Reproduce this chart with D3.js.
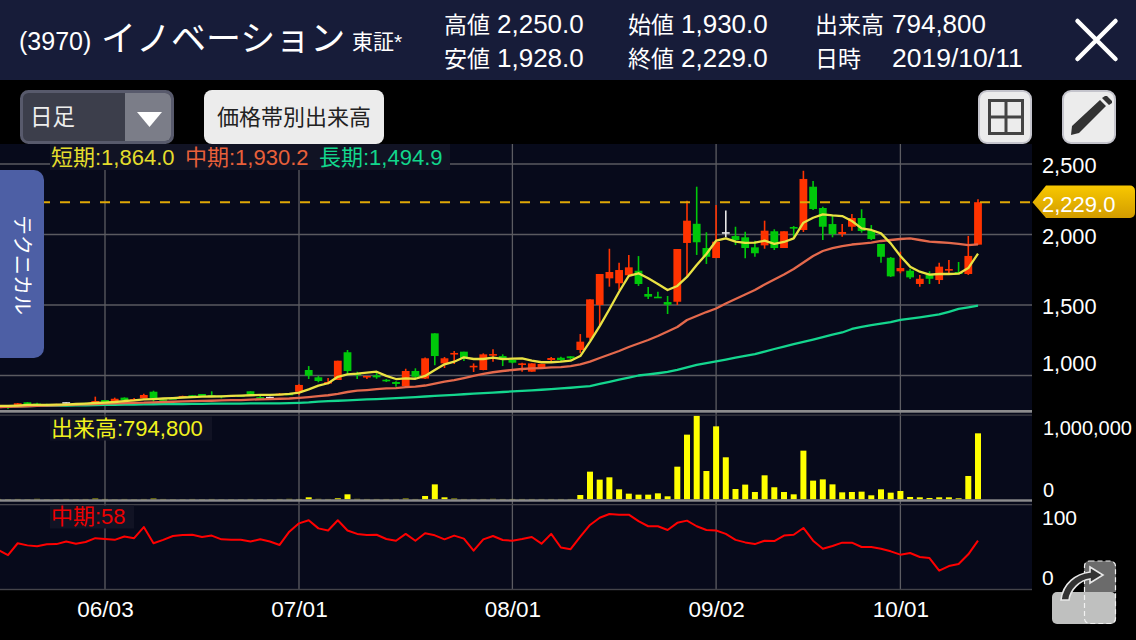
<!DOCTYPE html>
<html lang="ja">
<head>
<meta charset="utf-8">
<script src="https://cdn.jsdelivr.net/npm/d3@7"></script>
<style>
html,body{margin:0;padding:0;background:#000;overflow:hidden}
svg{display:block}
text{font-family:"Liberation Sans","Noto Sans CJK JP",sans-serif}
</style>
</head>
<body>
<svg id="c" width="1136" height="640"></svg>
<script>
const opens  = [776,784,791,810,801,798,795,805,801,805,805,826,817,843,826,838,885,831,840,847,860,869,860,857,852,860,888,847,843,864,871,885,1039,987,945,968,1165,1013,987,1001,970,954,925,1032,978,1299,1086,1152,1169,1060,1039,1145,1138,1110,1077,1027,1055,1110,1126,1136,1181,1268,1500,1689,1654,1711,1743,1578,1559,1521,1523,1940,2076,1904,1833,2011,1989,1980,1909,1923,2023,1904,2053,2032,2339,2188,2074,2003,2055,2117,2032,1933,1835,1739,1743,1649,1715,1677,1748,1734,1720,1928];
const highs  = [783,788,805,812,807,800,799,808,803,807,850,826,843,845,840,871,892,838,842,857,862,869,888,857,860,862,888,864,850,876,876,938,1067,997,982,1105,1181,1027,997,1030,975,959,1048,1051,1128,1299,1131,1174,1169,1086,1157,1186,1150,1124,1091,1086,1082,1131,1133,1138,1294,1540,1720,1899,1800,1855,1847,1628,1594,1564,1897,2240,2339,2016,2209,2171,2055,2020,1956,2098,2037,2023,2060,2452,2379,2197,2131,2074,2145,2179,2067,1933,1840,1878,1757,1713,1739,1800,1819,1805,1990,2250];
const lows   = [772,762,789,787,791,793,793,801,797,800,805,805,817,824,826,838,814,812,835,843,843,850,850,838,852,853,860,833,838,862,862,862,975,952,938,968,1011,975,975,977,954,921,921,980,975,1072,1053,1081,1103,1025,1037,1098,1067,1086,1027,1027,1055,1098,1101,1115,1158,1252,1358,1630,1606,1699,1635,1542,1552,1436,1500,1701,1855,1791,1833,1980,1925,1831,1842,1899,1890,1904,1975,2018,2174,1961,1980,1984,2027,2013,1961,1800,1699,1725,1684,1630,1649,1649,1720,1720,1713,1928];
const closes = [780,770,803,789,794,794,798,805,798,801,819,807,835,826,833,862,838,826,837,855,852,850,852,847,860,855,867,843,843,871,867,933,999,961,954,1105,1032,1003,997,987,959,940,1032,991,1122,1138,1122,1160,1122,1069,1150,1152,1115,1091,1086,1086,1082,1124,1110,1122,1240,1540,1720,1734,1748,1767,1649,1559,1552,1502,1897,2098,1945,1842,1949,2011,1961,1904,1867,2027,1904,2023,2046,2394,2181,2055,2003,2018,2117,2025,1968,1842,1703,1762,1696,1686,1686,1772,1755,1720,1848,2229];
const maShort = [784,784,787,791,791,791,794,794,798,801,805,808,812,819,823,830,833,837,840,844,847,850,851,852,855,857,860,862,862,865,869,878,902,928,945,991,1008,1013,1020,1027,997,975,980,977,997,1039,1079,1098,1129,1117,1117,1126,1117,1119,1122,1105,1094,1094,1098,1105,1138,1240,1350,1470,1594,1706,1725,1689,1649,1606,1635,1699,1784,1862,1956,1973,1949,1940,1942,1956,1933,1947,1973,2084,2119,2143,2135,2131,2096,2044,2032,2008,1937,1847,1772,1736,1715,1720,1720,1722,1762,1864];
const maMid   = [776,778,780,782,784,787,789,791,793,796,798,800,802,804,806,807,810,812,814,816,818,820,821,823,825,826,829,831,833,835,837,842,847,853,860,870,883,892,897,903,908,911,917,921,929,943,957,968,982,997,1011,1023,1032,1039,1046,1050,1053,1057,1060,1067,1079,1098,1124,1149,1174,1202,1227,1252,1280,1312,1344,1394,1422,1450,1475,1511,1543,1574,1606,1645,1681,1716,1755,1801,1847,1883,1904,1918,1929,1936,1943,1954,1961,1968,1972,1961,1950,1945,1940,1933,1924,1930];
const maLong  = [780,781,782,783,784,785,786,787,788,789,790,791,792,793,794,795,796,797,798,798,799,799,800,800,801,801,802,802,803,803,804,806,809,815,818,821,824,827,830,833,836,840,843,847,851,855,859,863,867,871,875,879,883,887,891,895,899,903,908,913,919,925,940,955,970,985,1000,1008,1016,1025,1040,1058,1075,1088,1100,1113,1126,1139,1152,1170,1188,1205,1222,1238,1255,1272,1290,1305,1330,1345,1358,1368,1378,1394,1403,1413,1423,1433,1452,1472,1483,1494.9];
const volumes = [4000,3000,4000,3000,5000,3000,3000,4000,3000,4000,8000,4000,3000,4000,3000,4000,8000,4000,3000,3000,4000,3000,4000,3000,3000,3000,4000,3000,3000,4000,5000,4000,24000,5000,4000,12000,60000,5000,4000,4000,4000,4000,8000,4000,40000,180000,24000,8000,4000,4000,4000,5000,4000,4000,4000,4000,4000,4000,4000,4000,52000,333000,237000,265000,120000,68000,56000,56000,72000,36000,393000,779000,1007000,341000,879000,506000,124000,177000,88000,289000,145000,88000,60000,586000,225000,240000,180000,84000,88000,92000,48000,120000,80000,100000,28000,24000,16000,24000,24000,12000,281000,794800];
const rsiMid = [47,41,55,52.5,51.4,53.7,54,57,54.5,56.5,61,60,59,63,61,74,55,59,63.5,64.7,65,62.4,64,59.6,59,59,57,59.6,57,53,68.6,78.4,82,72.5,70,82,70,66,64.7,65,60,58,66,58,66.7,64.3,59.6,64,60.4,46.3,59.6,63.5,58.8,58,60,62.4,54.5,66,50,48,62.7,76.5,85,89.4,88.6,88.6,81,75,75,70.6,79,81.6,75,70.6,70,66,59,56,54,58,57.6,64,65,73,58,48.6,51.8,55.7,55.7,50.6,50.6,48.6,45.5,41.6,43.5,38.8,37.6,22.7,28.2,30.6,42,58];
const dateIndex = [11,31,53,74,93];
const dateLabels = ["06/03","07/01","08/01","09/02","10/01"];
const priceTicks = [1000,1500,2000,2500];
const volumeTicks = [0,1000000];
const rsiTicks = [0,100];
const lastClose = 2229.0;
const legendPrice = [["短期:1,864.0",51,"#e4dd2c"],["中期:1,930.2",185,"#e8603a"],["長期:1,494.9",319,"#12d68c"]];
const statsLeft = [["高値","2,250.0",444,497,33],["安値","1,928.0",444,497,67],["始値","1,930.0",628,681,33],["終値","2,229.0",628,681,67]];

const svg = d3.select("#c");
const defs = svg.append("defs");
const gold = defs.append("linearGradient").attr("id","gold").attr("x1",0).attr("y1",0).attr("x2",0).attr("y2",1);
gold.append("stop").attr("offset","0").attr("stop-color","#f8c800");
gold.append("stop").attr("offset","1").attr("stop-color","#d29c00");
defs.append("clipPath").attr("id","cp").append("rect").attr("x",0).attr("y",144).attr("width",1032).attr("height",266);

const W = 1032;
const x = d3.scaleLinear().domain([0,101]).range([978-101*9.7,978]);
const yP = d3.scaleLinear().domain([1000,2500]).range([375.5,164]);
const yV = d3.scaleLinear().domain([0,1000000]).range([499.3,416.3]);
const yR = d3.scaleLinear().domain([0,100]).range([590,505]);

// header
svg.append("rect").attr("width",1136).attr("height",80).attr("fill","#171c39");
const T=(s,px,py,fs,fill,anchor)=>svg.append("text").text(s).attr("x",px).attr("y",py).attr("font-size",fs).attr("fill",fill||"#fff").attr("text-anchor",anchor||"start");
T("(3970)",19,50,25);
T("イノベーション",101,51,35);
T("東証*",352,49,21);
statsLeft.forEach(r=>{T(r[0],r[2],r[4],23);T(r[1],r[3],r[4],26);});
T("出来高",815,33,23);T("794,800",892,33,26);
T("日時",815,67,23);T("2019/10/11",892,67,26.5);
svg.append("path").attr("d","M1077.5 21L1115.5 59M1115.5 21L1077.5 59").attr("stroke","#fff").attr("stroke-width",4.5).attr("stroke-linecap","round");

// buttons
svg.append("rect").attr("x",21.5).attr("y",91.5).attr("width",151).attr("height",51).attr("rx",7).attr("fill","#3c3e4b").attr("stroke","#585a6c").attr("stroke-width",3);
svg.append("path").attr("d","M125 93H165a6 6 0 0 1 6 6V135a6 6 0 0 1 -6 6H125Z").attr("fill","#7b7d88");
svg.append("path").attr("d","M137 112H162L149.5 127Z").attr("fill","#fff");
T("日足",30,125,22.5,"#eee");
svg.append("rect").attr("x",204).attr("y",90).attr("width",180).attr("height",54).attr("rx",8).attr("fill","#ececec");
T("価格帯別出来高",294,125,22,"#222","middle");
svg.append("rect").attr("x",979).attr("y",91).attr("width",52).attr("height",52).attr("rx",8).attr("fill","#ececec").attr("stroke","#c4c4cc").attr("stroke-width",2);
svg.append("path").attr("d","M989.5 100.5H1022.5V133.5H989.5ZM1006 100.5V133.5M989.5 117H1022.5").attr("fill","none").attr("stroke","#444").attr("stroke-width",3);
svg.append("rect").attr("x",1063).attr("y",91).attr("width",52).attr("height",52).attr("rx",8).attr("fill","#ececec").attr("stroke","#c4c4cc").attr("stroke-width",2);
svg.append("path").attr("d","M1072 126L1100 100L1106 106L1079 133L1071 135Z M1102 98L1105 96L1107 96L1112 101L1112 103L1109 105Z").attr("fill","#333");

// panels
svg.append("rect").attr("x",0).attr("y",144).attr("width",W).attr("height",446).attr("fill","#070a1b");

// grid
const grid = svg.append("g");
grid.selectAll("line.h").data(priceTicks).join("line").attr("class","h").attr("x1",0).attr("x2",W).attr("y1",d=>yP(d)).attr("y2",d=>yP(d)).attr("stroke","#5a5a60").attr("stroke-width",1.3);
grid.selectAll("line.v").data(dateIndex).join("line").attr("class","v").attr("x1",d=>x(d)).attr("x2",d=>x(d)).attr("y1",144).attr("y2",590).attr("stroke","#5c5c62").attr("stroke-width",1.3);

// volume
svg.append("g").selectAll("rect").data(volumes).join("rect")
  .attr("x",(d,i)=>x(i)-3).attr("width",6).attr("y",d=>yV(d)).attr("height",d=>yV(0)-yV(d)).attr("fill","#ffff00");

// candles
const cg = svg.append("g").attr("clip-path","url(#cp)");
const col=i=>closes[i]>opens[i]?"#ff3300":closes[i]<opens[i]?"#00c80a":"#e8e8e8";
cg.selectAll("line.w").data(closes).join("line").attr("class","w").attr("x1",(d,i)=>x(i)).attr("x2",(d,i)=>x(i))
  .attr("y1",(d,i)=>yP(highs[i])).attr("y2",(d,i)=>yP(lows[i])).attr("stroke",(d,i)=>col(i)).attr("stroke-width",1.6);
cg.selectAll("rect").data(closes).join("rect").attr("x",(d,i)=>x(i)-3.9).attr("width",7.8)
  .attr("y",(d,i)=>yP(Math.max(opens[i],closes[i]))-(opens[i]===closes[i]?0.8:0))
  .attr("height",(d,i)=>Math.max(1.6,Math.abs(yP(opens[i])-yP(closes[i])))).attr("fill",(d,i)=>col(i));

// moving averages
const lineP=d3.line().x((d,i)=>x(i)).y(d=>yP(d));
[[maLong,"#14d68e"],[maMid,"#e4694c"],[maShort,"#e9e243"]].forEach(([s,c])=>{
  cg.append("path").attr("d",lineP(s)).attr("fill","none").attr("stroke",c).attr("stroke-width",2.3).attr("stroke-linejoin","round");
});

// last price
svg.append("line").attr("x1",0).attr("x2",W).attr("y1",yP(lastClose)).attr("y2",yP(lastClose)).attr("stroke","#e0a806").attr("stroke-width",2).attr("stroke-dasharray","10 10");

// RSI
svg.append("path").attr("d",d3.line().x((d,i)=>x(i)).y(d=>yR(d))(rsiMid)).attr("fill","none").attr("stroke","#ff0000").attr("stroke-width",2).attr("stroke-linejoin","round");

// separators
svg.append("rect").attr("x",0).attr("y",410).attr("width",W).attr("height",2.7).attr("fill","#8c8c8e");
svg.append("rect").attr("x",0).attr("y",414.5).attr("width",W).attr("height",1.2).attr("fill","#3e3e46");
svg.append("rect").attr("x",0).attr("y",499.3).attr("width",W).attr("height",2.4).attr("fill","#8c8c8e");
svg.append("rect").attr("x",0).attr("y",504).attr("width",W).attr("height",1.3).attr("fill","#44444c");
svg.append("rect").attr("x",0).attr("y",588.8).attr("width",W).attr("height",1.4).attr("fill","#44444a");

// legends
svg.append("rect").attr("x",50).attr("y",144).attr("width",400).attr("height",26).attr("fill","#111324");
legendPrice.forEach(l=>T(l[0],l[1],165,22,l[2]));
svg.append("rect").attr("x",50).attr("y",416.5).attr("width",162).attr("height",24).attr("fill","#111324");
T("出来高:794,800",51,436,22,"#f2f21e");
svg.append("rect").attr("x",50).attr("y",505.5).attr("width",84).attr("height",23).attr("fill","#111324");
T("中期:58",51,524,22,"#ee0000");

// axes
function styleAxis(g,size,offset){
  g.select(".domain").remove();
  g.selectAll("line").remove();
  g.selectAll("text").attr("fill","#fff").attr("font-size",size).attr("font-family",'"Liberation Sans",sans-serif')
    .attr("transform",d=>"translate(0,"+offset(d)+")");
}
svg.append("g").attr("transform","translate(1032,0)")
  .call(d3.axisRight(yP).tickValues(priceTicks).tickFormat(d3.format(",")).tickSize(0).tickPadding(10))
  .call(g=>styleAxis(g,21.8,d=>d===1000?-12:2));
svg.append("g").attr("transform","translate(1032,0)")
  .call(d3.axisRight(yV).tickValues(volumeTicks).tickFormat(d3.format(",")).tickSize(0).tickPadding(11))
  .call(g=>styleAxis(g,20,d=>d===0?-9:12));
svg.append("g").attr("transform","translate(1032,0)")
  .call(d3.axisRight(yR).tickValues(rsiTicks).tickSize(0).tickPadding(10))
  .call(g=>styleAxis(g,21,d=>d===0?-12:13));
svg.append("g").attr("transform","translate(0,590)")
  .call(d3.axisBottom(x).tickValues(dateIndex).tickFormat((d,i)=>dateLabels[i]).tickSize(0).tickPadding(11))
  .call(g=>styleAxis(g,22.5,()=>0));

// last price tag
svg.append("path").attr("d","M1032.5 202.3L1046 185.5H1130a5 5 0 0 1 5 5V213a5 5 0 0 1 -5 5H1046Z").attr("fill","url(#gold)");
T("2,229.0",1042,211.5,22);

// side tab
svg.append("path").attr("d","M0 170H34a10 10 0 0 1 10 10V348a10 10 0 0 1 -10 10H0Z").attr("fill","#4d5fa5");
svg.append("text").text("テクニカル").attr("transform","translate(22,265) rotate(90)").attr("text-anchor","middle").attr("dominant-baseline","central").attr("font-size",20).attr("fill","#fff");

// share icon
svg.append("rect").attr("x",1052).attr("y",592).attr("width",64).attr("height",32).attr("rx",5).attr("fill","#bfc0bf");
svg.append("path").attr("d","M1084 592V566a5 5 0 0 1 5 -5H1111a5 5 0 0 1 5 5V592Z").attr("fill","#6b6b6b");
svg.append("rect").attr("x",1084.5).attr("y",561).attr("width",31).attr("height",62.5).attr("rx",5).attr("fill","none").attr("stroke","#f2f2f2").attr("stroke-width",1.2).attr("stroke-dasharray","5 3");
svg.append("path").attr("d","M1061 600C1063 583 1076 574 1090 572L1090 567L1103 575L1090 583L1090 579C1080 580 1070 590 1069 600Z").attr("fill","#333").attr("stroke","#e8e8e8").attr("stroke-width",1.6);
</script>
</body>
</html>
